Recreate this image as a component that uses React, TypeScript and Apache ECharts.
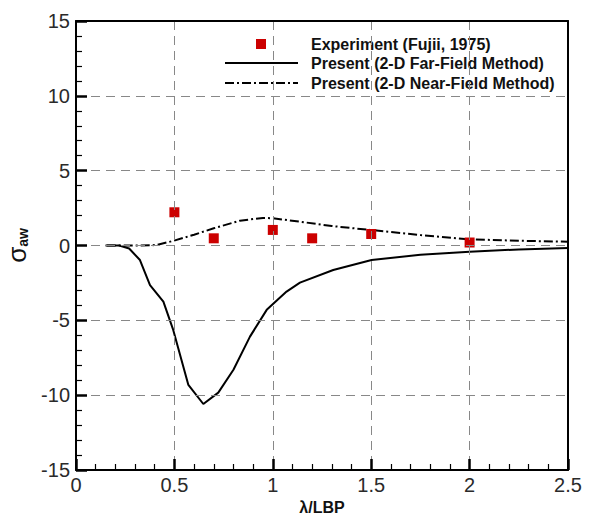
import React, { useEffect, useRef } from "react";
import * as echarts from "echarts";

const xTicks = [0, 0.5, 1, 1.5, 2, 2.5];
const yTicks = [-15, -10, -5, 0, 5, 10, 15];

const experimentX = [0.5, 0.7, 1.0, 1.2, 1.5, 2.0];
const experimentY = [2.22, 0.48, 1.04, 0.48, 0.77, 0.2];

const farX = [0.15, 0.22, 0.27, 0.325, 0.376, 0.444, 0.494, 0.571, 0.647, 0.723, 0.8, 0.884, 0.969, 1.07, 1.138, 1.307, 1.502, 1.75, 2.0, 2.25, 2.5];
const farY = [0, 0, -0.2, -0.97, -2.64, -3.75, -5.64, -9.32, -10.59, -9.83, -8.3, -6.09, -4.3, -3.08, -2.48, -1.64, -0.97, -0.62, -0.41, -0.26, -0.16];

const nearX = [0.156, 0.3, 0.41, 0.497, 0.6, 0.7, 0.833, 0.95, 1.0, 1.138, 1.3, 1.494, 1.75, 2.0, 2.25, 2.5];
const nearY = [0, 0, 0.03, 0.32, 0.72, 1.15, 1.66, 1.84, 1.82, 1.59, 1.3, 1.04, 0.7, 0.41, 0.32, 0.25];

const legendLabels = [
  "Experiment (Fujii, 1975)",
  "Present (2-D Far-Field Method)",
  "Present (2-D Near-Field Method)",
];

const toPairs = (xs: number[], ys: number[]) => xs.map((x, i) => [x, ys[i]]);

export default function App() {
  const ref = useRef<HTMLDivElement>(null);
  useEffect(() => {
    if (!ref.current) return;
    const chart = echarts.init(ref.current, null, { renderer: "svg" });
    const font = "Liberation Sans, Arial, sans-serif";
    const labelFont = { fontFamily: font, fontSize: 20, color: "#2a2a2a" };
    const dash = [9, 6];
    const legendTextStyle = {
      fontFamily: font,
      fontSize: 16,
      fontWeight: "bold" as const,
      fill: "#111",
    };
    const mkTick = () => ({ show: true, inside: true, length: 11, lineStyle: { color: "#000", width: 2.5 } });
    const mkMinor = () => ({ show: true, splitNumber: 5, length: 6, lineStyle: { color: "#000", width: 1.2 } });
    chart.setOption({
      animation: false,
      grid: {
        left: 76,
        right: 26,
        top: 21,
        bottom: 45,
        outerBoundsMode: "none",
        containLabel: false,
      },
      xAxis: [
        {
          type: "value",
          min: 0,
          max: 2.5,
          interval: 0.5,
          name: "λ/LBP",
          nameLocation: "middle",
          nameGap: 26,
          nameTextStyle: { fontFamily: font, fontSize: 16, fontWeight: "bold", color: "#111" },
          axisLine: { show: true, onZero: false, lineStyle: { color: "#000", width: 2 } },
          axisTick: mkTick(),
          minorTick: mkMinor(),
          axisLabel: { ...labelFont, margin: 5, formatter: (v: number) => (xTicks.includes(v) ? String(v) : "") },
          splitLine: { show: true, lineStyle: { color: "#888", width: 1, type: dash } },
          z: 5,
        },
        {
          type: "value",
          position: "top",
          min: 0,
          max: 2.5,
          interval: 0.5,
          axisLine: { show: true, onZero: false, lineStyle: { color: "#000", width: 2 } },
          axisTick: { show: false },
          axisLabel: { show: false },
          splitLine: { show: false },
          z: 5,
        },
      ],
      yAxis: [
        {
          type: "value",
          min: -15,
          max: 15,
          interval: 5,
          name: "{s|σ}{sub|aw}",
          nameLocation: "middle",
          nameGap: 36,
          nameRotate: 90,
          nameTextStyle: {
            rich: {
              s: { fontFamily: font, fontSize: 26, color: "#111" },
              sub: {
                fontFamily: font,
                fontSize: 14,
                fontWeight: "bold",
                color: "#111",
                verticalAlign: "bottom",
                padding: [12, 0, 0, 0],
              },
            },
          },
          axisLine: { show: true, onZero: false, lineStyle: { color: "#000", width: 2 } },
          axisTick: mkTick(),
          minorTick: mkMinor(),
          axisLabel: { ...labelFont, margin: 6, formatter: (v: number) => (yTicks.includes(v) ? String(v) : "") },
          splitLine: { show: true, lineStyle: { color: "#888", width: 1, type: dash } },
          z: 5,
        },
        {
          type: "value",
          position: "right",
          min: -15,
          max: 15,
          interval: 5,
          axisLine: { show: true, onZero: false, lineStyle: { color: "#000", width: 2 } },
          axisTick: { show: false },
          axisLabel: { show: false },
          splitLine: { show: false },
          z: 5,
        },
      ],
      series: [
        {
          name: legendLabels[1],
          type: "line",
          data: toPairs(farX, farY),
          showSymbol: false,
          symbol: "none",
          lineStyle: { color: "#000", width: 2 },
          z: 3,
        },
        {
          name: legendLabels[2],
          type: "line",
          data: toPairs(nearX, nearY),
          showSymbol: false,
          symbol: "none",
          lineStyle: { color: "#000", width: 2, type: [9, 3, 2, 3] },
          z: 3,
        },
        {
          name: legendLabels[0],
          type: "scatter",
          data: toPairs(experimentX, experimentY),
          symbol: "rect",
          symbolSize: 10,
          itemStyle: { color: "#cc0000", opacity: 1 },
          z: 4,
        },
      ],
      graphic: [
        { type: "rect", shape: { x: 256, y: 39, width: 10, height: 10 }, style: { fill: "#cc0000" } },
        { type: "line", shape: { x1: 225, y1: 63, x2: 298, y2: 63 }, style: { stroke: "#000", lineWidth: 2 } },
        {
          type: "line",
          shape: { x1: 225, y1: 83, x2: 298, y2: 83 },
          style: { stroke: "#000", lineWidth: 2, lineDash: [9, 3, 2, 3] },
        },
        ...legendLabels.map((t, i) => ({
          type: "text",
          x: 311,
          y: 44 + i * 19.5,
          style: { ...legendTextStyle, text: t, verticalAlign: "middle", align: "left" },
        })),
      ],
    });
    return () => chart.dispose();
  }, []);
  return (
    <div
      ref={ref}
      style={{ position: "fixed", left: 0, top: 0, width: 594, height: 515, background: "#fff" }}
    />
  );
}
